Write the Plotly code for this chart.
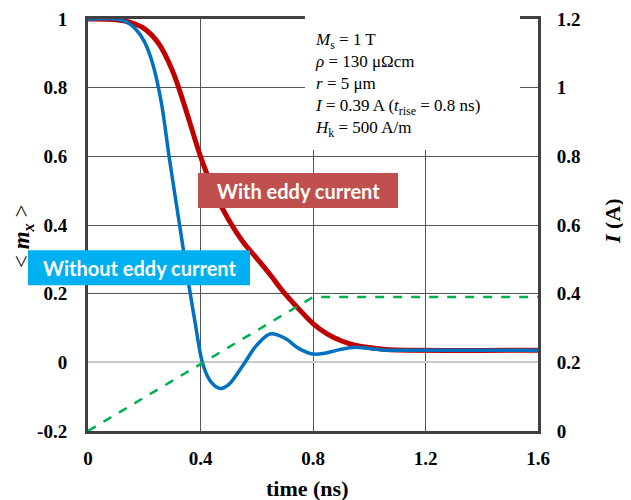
import plotly.graph_objects as go

# time (ns) and <m_x> without eddy current
t_wo = [0, 0.1, 0.14, 0.17, 0.2, 0.23, 0.26, 0.29, 0.32, 0.35, 0.38, 0.41, 0.44, 0.47,
        0.5, 0.55, 0.6, 0.65, 0.7, 0.75, 0.8, 0.85, 0.9, 0.95, 1.0, 1.05, 1.1, 1.6]
m_wo = [1.0, 1.0, 0.99, 0.97, 0.935, 0.87, 0.76, 0.59, 0.43, 0.27, 0.12, -0.01, -0.06, -0.076,
        -0.065, -0.01, 0.05, 0.083, 0.07, 0.04, 0.024, 0.028, 0.038, 0.044, 0.04, 0.036, 0.035, 0.035]

# with eddy current
t_w = [0, 0.1, 0.15, 0.2, 0.25, 0.3, 0.35, 0.4, 0.45, 0.5, 0.55, 0.6, 0.65, 0.7, 0.75,
       0.8, 0.85, 0.9, 0.95, 1.0, 1.05, 1.1, 1.6]
m_w = [1.0, 0.998, 0.99, 0.972, 0.93, 0.85, 0.73, 0.6, 0.495, 0.415, 0.352, 0.303, 0.253, 0.2,
       0.155, 0.113, 0.083, 0.063, 0.05, 0.043, 0.038, 0.036, 0.035]

# current pulse I (A)
t_i = [0, 0.8, 1.6]
i_a = [0, 0.39, 0.39]

x_ticks = [0, 0.4, 0.8, 1.2, 1.6]
x_labels = ["0", "0.4", "0.8", "1.2", "1.6"]
y_ticks = [-0.2, 0, 0.2, 0.4, 0.6, 0.8, 1.0]
y_labels = ["-0.2", "0", "0.2", "0.4", "0.6", "0.8", "1"]
y2_ticks = [0, 0.2, 0.4, 0.6, 0.8, 1.0, 1.2]
y2_labels = ["0", "0.2", "0.4", "0.6", "0.8", "1", "1.2"]

SERIF = "Liberation Serif"
tickfont = dict(family=SERIF, size=19, color="black", weight="bold")
axcol = "#404040"

fig = go.Figure()
fig.add_trace(go.Scatter(x=t_i, y=i_a, mode="lines", yaxis="y2",
                         line=dict(color="#00B050", width=2.5, dash="dash"), showlegend=False))
fig.add_trace(go.Scatter(x=t_w, y=m_w, mode="lines", line_shape="spline",
                         line=dict(color="#C00000", width=5), showlegend=False))
fig.add_trace(go.Scatter(x=t_wo, y=m_wo, mode="lines", line_shape="spline",
                         line=dict(color="#0070C0", width=3.5), showlegend=False))

# page body has an 8px default margin, so the figure is 8px smaller and margins shifted
fig.update_layout(
    width=623, height=492,
    margin=dict(l=80, r=93, t=11, b=69, autoexpand=False),
    paper_bgcolor="white", plot_bgcolor="white",
    xaxis=dict(range=[0, 1.6], tickvals=x_ticks, ticktext=x_labels, tickfont=tickfont,
               showgrid=True, gridcolor="#555555", gridwidth=1,
               showline=True, linecolor=axcol, linewidth=3, mirror=True,
               ticks="", ticklabelstandoff=8, zeroline=False, automargin=False),
    yaxis=dict(range=[-0.2, 1.0], tickvals=y_ticks, ticktext=y_labels, tickfont=tickfont,
               showgrid=True, gridcolor="#555555", gridwidth=1,
               zeroline=True, zerolinecolor="#c8c8c8", zerolinewidth=1.5,
               showline=True, linecolor=axcol, linewidth=3,
               ticks="", ticklabelstandoff=14, automargin=False),
    yaxis2=dict(range=[0, 1.2], tickvals=y2_ticks, ticktext=y2_labels, tickfont=tickfont,
                overlaying="y", side="right", showgrid=False, zeroline=False,
                showline=True, linecolor=axcol, linewidth=3,
                ticks="", ticklabelstandoff=12, automargin=False),
)

shapes = [
    dict(type="rect", xref="paper", yref="paper", x0=0.482, x1=0.96, y0=0.682, y1=1.008,
         fillcolor="white", line=dict(width=0), layer="above"),
    dict(type="rect", xref="paper", yref="paper", x0=0.2444, x1=0.689, y0=0.541, y1=0.626,
         fillcolor="#C0504D", line=dict(width=0), layer="above"),
    dict(type="rect", xref="paper", yref="paper", x0=-0.1333, x1=0.36, y0=0.354, y1=0.439,
         fillcolor="#00B0F0", line=dict(width=0), layer="above"),
]
fig.update_layout(shapes=shapes)

param_text = ("<i>M</i><sub>s</sub> = 1 T<br>"
              "<i>ρ</i> = 130 μΩcm<br>"
              "<i>r</i> = 5 μm<br>"
              "<i>I</i> = 0.39 A (<i>t</i><sub>rise</sub> = 0.8 ns)<br>"
              "<i>H</i><sub>k</sub> = 500 A/m")

annotations = [
    dict(xref="paper", yref="paper", x=(313 - 88) / 450, y=(431 - 28) / 412,
         xanchor="left", yanchor="top", align="left", showarrow=False,
         text=param_text, font=dict(family=SERIF, size=17, color="black")),
    dict(xref="paper", yref="paper", x=(298 - 88) / 450, y=(431 - 191) / 412,
         xanchor="center", yanchor="middle", showarrow=False,
         text="<b>With eddy current</b>", font=dict(family="Lato", size=20, color="white")),
    dict(xref="paper", yref="paper", x=(139 - 88) / 450, y=(431 - 268) / 412,
         xanchor="center", yanchor="middle", showarrow=False,
         text="<b>Without eddy current</b>", font=dict(family="Lato", size=20, color="white")),
    dict(xref="paper", yref="paper", x=(307 - 88) / 450, y=(431 - 488) / 412,
         xanchor="center", yanchor="middle", showarrow=False,
         text="<b>time (ns)</b>", font=dict(family=SERIF, size=22, color="black")),
    dict(xref="paper", yref="paper", x=(23 - 88) / 450, y=(431 - 237) / 412,
         xanchor="center", yanchor="middle", showarrow=False, textangle=-90, borderpad=0,
         text="< <b><i>m</i></b><sub><b><i>x</i></b></sub> >",
         font=dict(family=SERIF, size=23, color="black")),
    dict(xref="paper", yref="paper", x=(612 - 88) / 450, y=(431 - 221) / 412,
         xanchor="center", yanchor="middle", showarrow=False, textangle=-90,
         text="<b><i>I</i> (A)</b>", font=dict(family=SERIF, size=22, color="black")),
]
fig.update_layout(annotations=annotations)

fig.write_html("out.html")
